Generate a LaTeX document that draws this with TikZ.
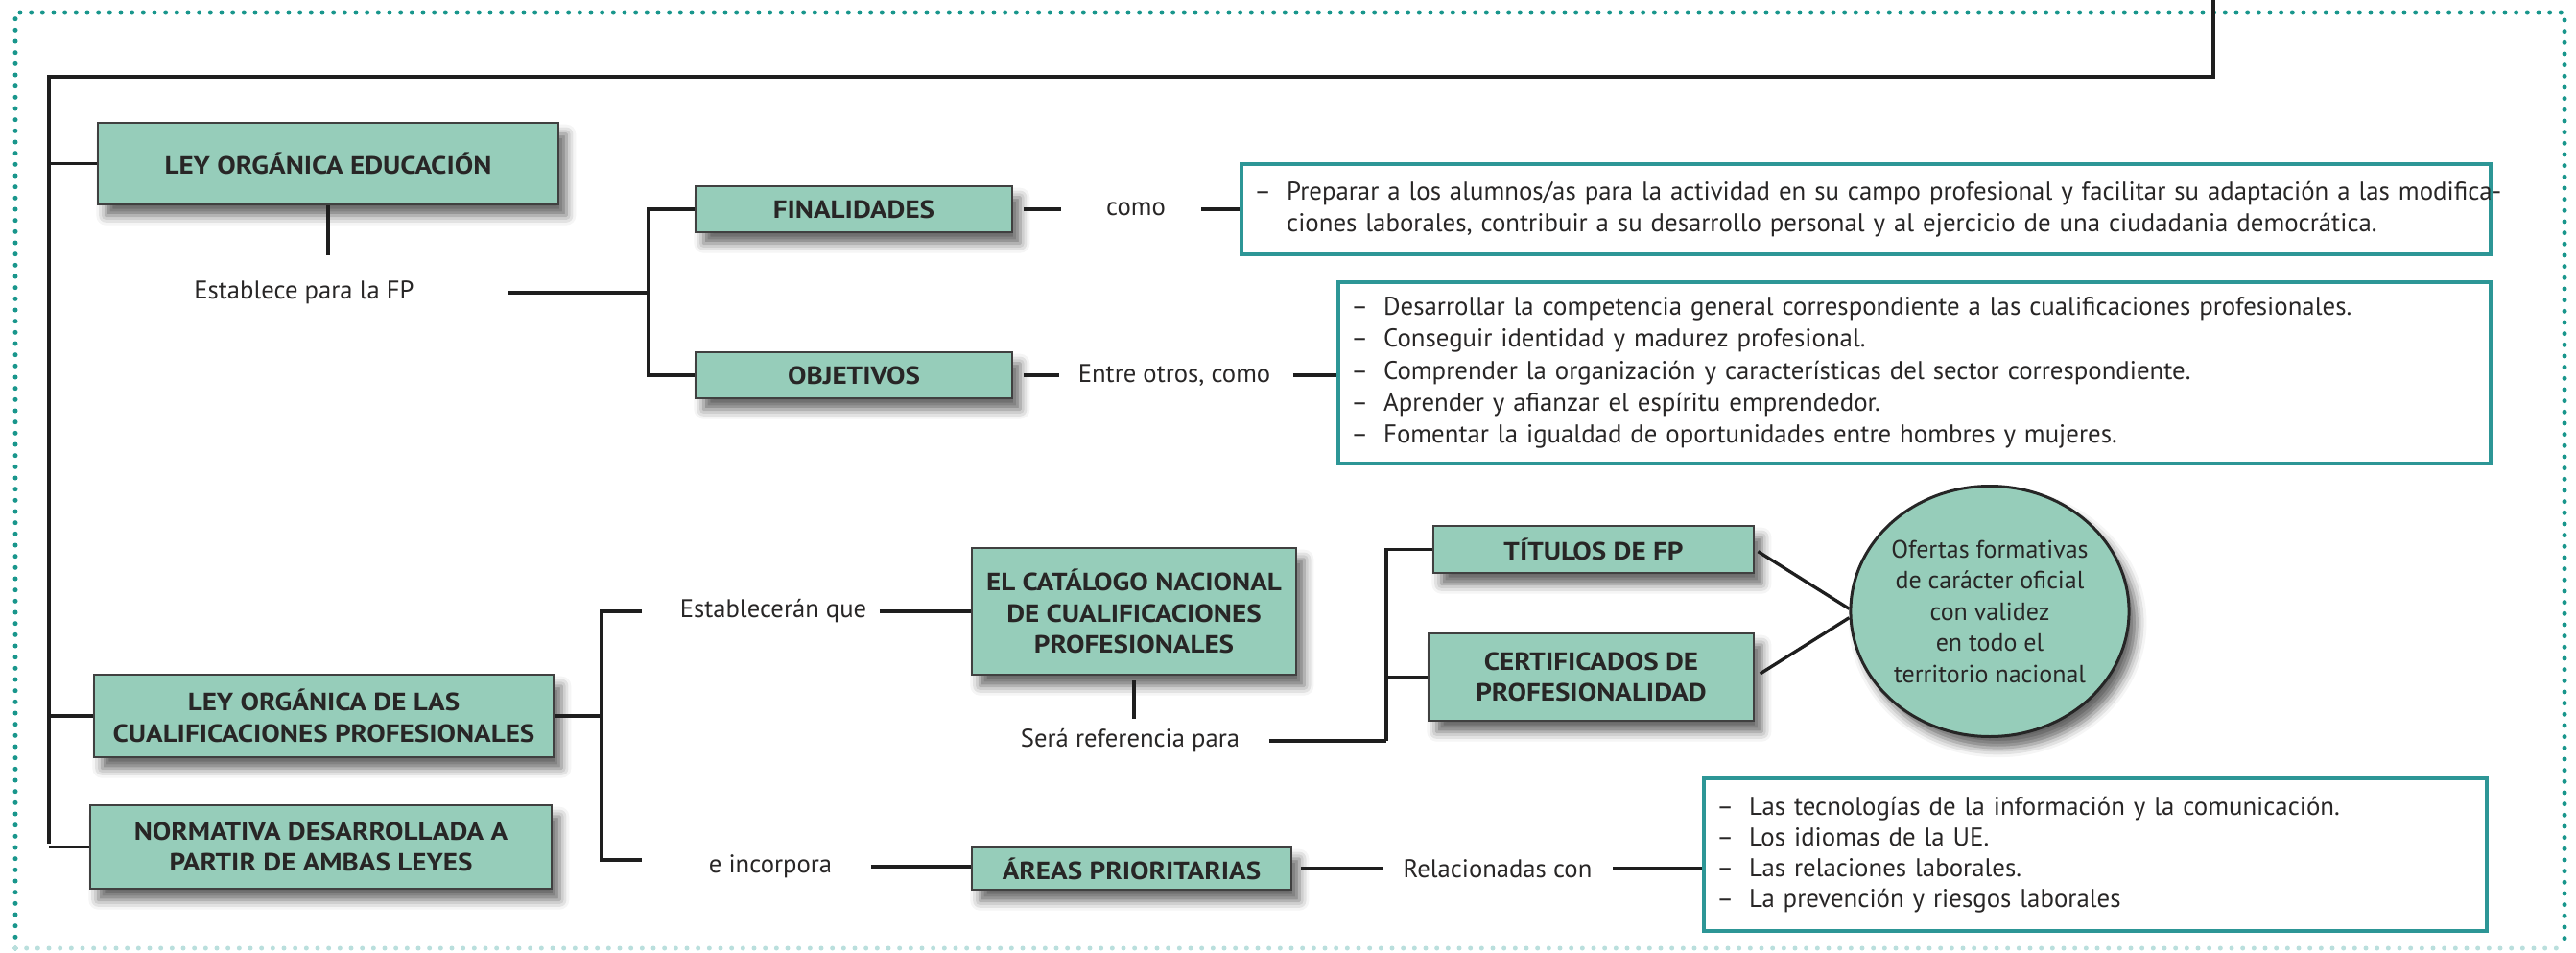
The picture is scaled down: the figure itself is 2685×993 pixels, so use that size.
\documentclass[tikz,border=0pt]{standalone}
\usepackage{fontspec}
\setmainfont{PT Sans}[BoldFeatures={FakeStretch=1.12}]
\usetikzlibrary{shapes.geometric,shadows.blur}
\definecolor{mint}{RGB}{150,205,186}
\definecolor{tealb}{RGB}{45,150,150}
\definecolor{dotc}{RGB}{25,150,140}
\definecolor{ink}{RGB}{40,38,38}
\definecolor{lineg}{RGB}{30,30,30}
\tikzset{
  gbox/.style={draw=black!75, line width=0.6pt, fill=mint, align=center,
    font=\bfseries\fontsize{7.8}{9.8}\selectfont, text=ink, inner sep=0pt,
    blur shadow={shadow xshift=2.5pt, shadow yshift=-3.5pt, shadow blur radius=3pt, shadow opacity=60}},
  tbox/.style={draw=tealb, line width=1.05pt, fill=white, align=left, inner xsep=4pt, inner ysep=0pt,
    font=\fontsize{8.05}{10}\selectfont, text=ink},
  lbl/.style={font=\fontsize{8}{10}\selectfont, text=ink, inner sep=0pt},
  conn/.style={draw=lineg, line width=1pt},
  dotframe/.style={line width=1.5pt, line cap=round, dash pattern=on 0pt off 3.5pt},
}
\newcommand{\dash}{–\hspace{0.6em}}
\begin{document}
\begin{tikzpicture}[x=0.3pt,y=-0.3pt]
\useasboundingbox (0,0) rectangle (2685,993);
% frame
\draw[dotframe, dotc] (16,988) -- (16,13) -- (2673,13) -- (2673,988);
\draw[dotframe, dotc!30] (16,988) -- (2673,988);

% green boxes
\node[gbox, minimum width=144pt, minimum height=25.5pt] (leyedu) at (342,170.5) {LEY ORGÁNICA EDUCACIÓN};
\node[gbox, minimum width=99pt, minimum height=14.4pt] (finalidades) at (890,218) {FINALIDADES};
\node[gbox, minimum width=99pt, minimum height=14.4pt] (objetivos) at (890,391) {OBJETIVOS};
\node[gbox, minimum width=143.7pt, minimum height=25.8pt] (leycual) at (337.5,746) {LEY ORGÁNICA DE LAS\\CUALIFICACIONES PROFESIONALES};
\node[gbox, minimum width=144.3pt, minimum height=26.1pt] (normativa) at (334.5,882.5) {NORMATIVA DESARROLLADA A\\PARTIR DE AMBAS LEYES};
\node[gbox, minimum width=101.4pt, minimum height=39.6pt] (catalogo) at (1182,637) {EL CATÁLOGO NACIONAL\\DE CUALIFICACIONES\\PROFESIONALES};
\node[gbox, minimum width=100.2pt, minimum height=14.7pt] (titulos) at (1661,572.5) {TÍTULOS DE FP};
\node[gbox, minimum width=101.7pt, minimum height=27.3pt] (certificados) at (1658.5,705.5) {CERTIFICADOS DE\\PROFESIONALIDAD};
\node[gbox, minimum width=99.9pt, minimum height=13.2pt] (areas) at (1179.5,905) {ÁREAS PRIORITARIAS};
\node[gbox, ellipse, line width=0.9pt, draw=black!85, minimum width=82.5pt, minimum height=78.3pt, font=\fontsize{7.8}{9.75}\selectfont] (ofertas) at (2074,637)
  {Ofertas formativas\\de carácter oficial\\con validez\\en todo el\\territorio nacional};

% text boxes
\node[tbox, minimum width=390.6pt, minimum height=28.2pt, text width=382.6pt] (finbox) at (1945,218)
  {\mbox{\dash Preparar a los alumnos/as para la actividad en su campo profesional y facilitar su adaptación a las modifica-}\\
   \mbox{\phantom{\dash}ciones laborales, contribuir a su desarrollo personal y al ejercicio de una ciudadania democrática.}};
\node[tbox, minimum width=360.3pt, minimum height=56.7pt, text width=352.3pt] (objbox) at (1995.5,388.5)
  {\mbox{\dash Desarrollar la competencia general correspondiente a las cualificaciones profesionales.}\\
   \mbox{\dash Conseguir identidad y madurez profesional.}\\
   \mbox{\dash Comprender la organización y características del sector correspondiente.}\\
   \mbox{\dash Aprender y afianzar el espíritu emprendedor.}\\
   \mbox{\dash Fomentar la igualdad de oportunidades entre hombres y mujeres.}};
\node[tbox, minimum width=244.8pt, minimum height=47.7pt, text width=236.8pt, font=\fontsize{8.05}{9.6}\selectfont] (areabox) at (2184,890.5)
  {\mbox{\dash Las tecnologías de la información y la comunicación.}\\
   \mbox{\dash Los idiomas de la UE.}\\
   \mbox{\dash Las relaciones laborales.}\\
   \mbox{\dash La prevención y riesgos laborales}};

% labels
\node[lbl] (estab) at (317,305) {Establece para la FP};
\node[lbl] (como) at (1184,218) {como};
\node[lbl] (entre) at (1224,391) {Entre otros, como};
\node[lbl] (estab2) at (806,637) {Establecerán que};
\node[lbl] (eincorp) at (803,903) {e incorpora};
\node[lbl] (sera) at (1178,772) {Será referencia para};
\node[lbl] (relac) at (1561,905) {Relacionadas con};

% junction coordinates
\coordinate (topc) at (2307,0);
\coordinate (trunk) at (51,80);
\coordinate (trunkend) at (51,879);
\coordinate (br1) at (676,309);
\coordinate (br2) at (627,746);
\coordinate (br2a) at (669,637);
\coordinate (br2b) at (669,896);
\coordinate (br3) at (1445,772);

% connectors
\draw[conn] (topc) |- (trunk) -- (trunkend);
\draw[conn] (leyedu.west) -- (leyedu.west -| trunk);
\draw[conn] (leycual.west) -- (leycual.west -| trunk);
\draw[conn] (normativa.west) -- (normativa.west -| trunk);
\draw[conn, shorten >=8pt] (leyedu.south) -- (leyedu.south |- estab.north);
\draw[conn, shorten <=29.4pt] (estab.east) -- (estab.east -| br1);
\draw[conn] (finalidades.west) -| (br1) |- (objetivos.west);
\draw[conn, shorten <=3.3pt, shorten >=14pt] (finalidades.east) -- (como.west);
\draw[conn, shorten <=11pt] (como.east) -- (finbox.west);
\draw[conn, shorten <=3.3pt, shorten >=5.7pt] (objetivos.east) -- (entre.west);
\draw[conn, shorten <=6.9pt] (entre.east) -- (entre.east -| objbox.west);
\draw[conn] (leycual.east) -- (br2);
\draw[conn] (br2a) -| (br2) |- (br2b);
\draw[conn, shorten <=3.9pt] (estab2.east) -- (estab2.east -| catalogo.west);
\draw[conn, shorten <=12pt] (eincorp.east) -- (eincorp.east -| areas.west);
\draw[conn, shorten <=1.5pt, shorten >=3pt] (catalogo.south) -- (catalogo.south |- sera.north);
\draw[conn, shorten <=9pt] (sera.east) -- (br3);
\draw[conn] (br3) |- (titulos.west);
\draw[conn] (br3) |- (certificados.west);
\draw[conn, shorten <=1.2pt] (titulos.east) -- ([yshift=0.8pt]ofertas.west);
\draw[conn, shorten <=2pt] (certificados.east) -- ([yshift=-2pt]ofertas.west);
\draw[conn, shorten <=2.7pt, shorten >=6.3pt] (areas.east) -- (relac.west);
\draw[conn, shorten <=6.3pt] (relac.east) -- (relac.east -| areabox.west);
\end{tikzpicture}
\end{document}
